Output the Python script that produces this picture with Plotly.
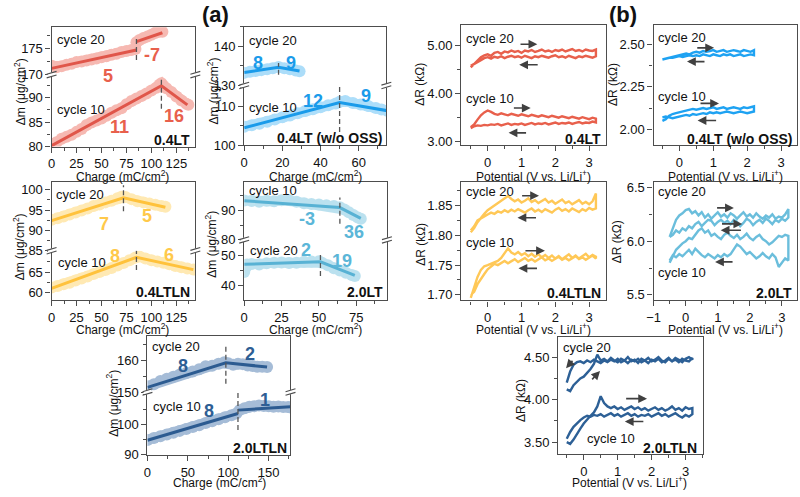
import plotly.graph_objects as go

W, H = 800, 497
FONT = "Liberation Sans, Arial, Helvetica, sans-serif"
FRAME = "#4d4d4d"
ARROW = "#404040"
TICKFONT = dict(family=FONT, size=13, color="#111")

# ===================== (a) EQCM data =====================
# 0.4LT
a1_c10_x = [0, 5, 10, 15, 20, 25, 30, 35, 40, 45, 50, 55, 60, 65, 70, 75, 80, 85, 90, 95, 100, 105, 108, 110, 112, 115, 120, 125, 130, 135, 137]
a1_c10_y = [80.5, 80.9, 81.6, 82.0, 82.4, 83.0, 83.6, 84.4, 84.9, 85.3, 85.7, 86.3, 86.9, 87.4, 87.8, 88.6, 89.3, 89.8, 90.3, 90.8, 91.4, 92.0, 92.6, 92.9, 92.4, 91.9, 91.1, 90.2, 89.4, 88.7, 88.5]
a1_c10_fit = [([0, 110, 136], [80.2, 92.4, 88.5])]
a1_c10_dash = (110, 87.7, 93.7)
a1_c20_x = [0, 5, 10, 15, 20, 25, 30, 35, 40, 45, 50, 55, 60, 65, 70, 75, 80, 84, 85, 88, 92, 96, 100, 104, 108, 111]
a1_c20_y = [171.7, 171.4, 171.6, 171.9, 172.1, 172.4, 172.5, 172.7, 172.9, 173.1, 173.3, 173.5, 173.8, 174.0, 174.3, 174.5, 174.7, 174.9, 176.2, 176.6, 177.0, 177.3, 177.6, 178.0, 178.3, 178.2]
a1_c20_fit = [([0, 85], [171.2, 174.7]), ([85, 111], [176.3, 178.0])]
a1_c20_dash = (85, 172.8, 176.9)

# 0.4LT (w/o OSS)
a2_c10_x = [0, 4, 8, 12, 16, 20, 24, 28, 32, 36, 40, 44, 48, 50, 53, 57, 61, 65, 69, 72, 75]
a2_c10_y = [104.8, 105.2, 105.6, 106.1, 106.7, 107.3, 107.7, 108.3, 108.9, 109.4, 109.9, 110.4, 110.9, 111.3, 111.5, 111.0, 110.6, 110.2, 109.7, 109.3, 109.0]
a2_c10_fit = [([0, 50, 75], [104.5, 111.1, 109.0])]
a2_c10_dash = (50, 103.4, 115.6)
a2_c20_x = [0, 3, 6, 9, 12, 15, 18, 21, 24, 27, 29]
a2_c20_y = [133.2, 133.5, 133.7, 133.9, 134.1, 134.4, 134.7, 134.4, 134.1, 133.8, 133.6]
a2_c20_fit = [([0, 18, 29], [133.3, 134.6, 133.7])]
a2_c20_dash = (18, 132.75, 135.7)

# 0.4LTLN
a3_c20_x = [0, 6, 12, 18, 24, 30, 36, 42, 48, 54, 60, 66, 70, 74, 80, 86, 92, 98, 104, 110, 114]
a3_c20_y = [92.6, 93.0, 93.4, 93.9, 94.4, 94.9, 95.4, 96.0, 96.4, 96.9, 97.3, 97.9, 98.3, 98.2, 97.7, 97.2, 96.9, 96.6, 96.3, 96.0, 95.8]
a3_c20_fit = [([0, 72, 114], [92.4, 98.0, 95.7])]
a3_c20_dash = (72, 94.7, 101.1)
a3_c10_x = [0, 6, 12, 18, 24, 30, 36, 42, 48, 54, 60, 66, 72, 78, 84, 88, 94, 100, 106, 112, 118, 124, 130, 136, 142]
a3_c10_y = [61.2, 61.6, 62.0, 62.4, 62.9, 63.4, 63.9, 64.5, 65.0, 65.5, 66.0, 66.6, 67.2, 67.9, 68.6, 68.8, 68.3, 67.9, 67.6, 67.3, 66.9, 66.5, 66.2, 65.9, 65.6]
a3_c10_fit = [([0, 85, 142], [61.0, 68.6, 65.6])]
a3_c10_dash = (85, 65.5, 70.3)

# 2.0LT
a4_c10_x = [0, 5, 10, 15, 20, 25, 30, 35, 40, 45, 50, 55, 60, 64, 67, 70, 73, 76, 78]
a4_c10_y = [93.4, 93.2, 93.0, 93.3, 93.1, 93.5, 93.6, 93.0, 92.5, 92.2, 92.0, 91.8, 91.5, 91.1, 90.3, 89.4, 88.5, 87.6, 87.2]
a4_c10_fit = [([0, 64, 78], [93.3, 91.0, 87.3])]
a4_c10_dash = (64, 85.5, 94.4)
a4_c20_x = [0, 1, 2, 5, 10, 15, 20, 25, 30, 35, 40, 45, 50, 52, 56, 60, 64, 68, 72, 74]
a4_c20_y = [44.5, 46.0, 47.0, 47.2, 47.0, 47.4, 47.6, 47.7, 47.5, 47.6, 47.9, 48.0, 48.1, 47.6, 46.8, 45.8, 45.0, 44.3, 43.5, 43.2]
a4_c20_fit = [([0, 51, 74], [47.1, 47.9, 43.4])]
a4_c20_dash = (51, 43.2, 50.3)

# 2.0LTLN
a5_c20_x = [0, 8, 16, 24, 32, 40, 48, 56, 64, 72, 80, 88, 95, 100, 106, 112, 118, 124, 130, 136, 142, 148]
a5_c20_y = [151.8, 152.5, 153.5, 154.2, 154.8, 155.5, 156.0, 156.5, 157.2, 158.1, 158.3, 158.9, 159.4, 159.1, 158.6, 158.9, 158.8, 158.4, 158.2, 158.0, 158.0, 157.9]
a5_c20_fit = [([0, 97, 148], [151.5, 159.2, 157.9])]
a5_c20_dash = (97, 152.6, 164.4)
a5_c10_x = [0, 8, 16, 24, 32, 40, 48, 56, 64, 72, 80, 88, 96, 104, 110, 114, 120, 126, 132, 138, 144, 150, 156, 162, 168, 174, 177]
a5_c10_y = [95.0, 95.6, 96.2, 96.8, 97.4, 98.0, 98.6, 99.3, 99.9, 100.6, 101.2, 101.9, 102.5, 103.2, 103.8, 104.9, 105.5, 106.0, 106.2, 106.4, 106.3, 106.2, 106.0, 106.1, 105.9, 105.9, 105.8]
a5_c10_fit = [([0, 112], [94.9, 103.8]), ([112, 177], [104.9, 106.0])]
a5_c10_dash = (112, 98.3, 110.9)

# ===================== (b) resistance data =====================
POT = [-0.5, -0.4, -0.3, -0.2, -0.1, 0.0, 0.1, 0.2, 0.3, 0.4, 0.5, 0.6, 0.7, 0.8, 0.9, 1.0, 1.1, 1.2, 1.3, 1.4,
       1.5, 1.6, 1.7, 1.8, 1.9, 2.0, 2.1, 2.2, 2.3, 2.4, 2.5, 2.6, 2.7, 2.8, 2.9, 3.0, 3.1, 3.2]
POT_SHORT = [-0.5, -0.4, -0.3, -0.2, -0.1, 0.0, 0.1, 0.2, 0.3, 0.4, 0.5, 0.6, 0.7, 0.8, 0.9, 1.0, 1.1, 1.2, 1.3, 1.4,
             1.5, 1.6, 1.7, 1.8, 1.9, 2.0, 2.1, 2.2]

# forward sweeps and reverse sweeps (both listed in increasing potential order)
b1_c20_fwd = [4.55, 4.62, 4.70, 4.76, 4.80, 4.82, 4.79, 4.85, 4.87, 4.83, 4.88, 4.86, 4.90, 4.87, 4.89, 4.85, 4.90, 4.88, 4.91, 4.87,
              4.89, 4.92, 4.88, 4.90, 4.87, 4.91, 4.89, 4.92, 4.88, 4.90, 4.93, 4.89, 4.91, 4.88, 4.92, 4.90, 4.89, 4.92]
b1_c20_rev = [4.58, 4.62, 4.66, 4.70, 4.74, 4.76, 4.73, 4.77, 4.75, 4.78, 4.74, 4.77, 4.79, 4.76, 4.78, 4.75, 4.79, 4.77, 4.74, 4.78,
              4.76, 4.79, 4.77, 4.75, 4.78, 4.80, 4.76, 4.78, 4.75, 4.79, 4.77, 4.74, 4.78, 4.76, 4.79, 4.77, 4.75, 4.78]
b1_c10_fwd = [3.30, 3.36, 3.46, 3.55, 3.61, 3.65, 3.62, 3.58, 3.56, 3.59, 3.57, 3.55, 3.58, 3.56, 3.54, 3.57, 3.55, 3.53, 3.56, 3.54,
              3.52, 3.55, 3.53, 3.51, 3.54, 3.52, 3.50, 3.53, 3.51, 3.49, 3.52, 3.50, 3.48, 3.51, 3.49, 3.47, 3.50, 3.48]
b1_c10_rev = [3.28, 3.32, 3.34, 3.33, 3.35, 3.34, 3.36, 3.35, 3.37, 3.34, 3.36, 3.38, 3.35, 3.37, 3.36, 3.38, 3.35, 3.37, 3.39, 3.36,
              3.38, 3.37, 3.39, 3.36, 3.38, 3.40, 3.37, 3.39, 3.38, 3.40, 3.37, 3.39, 3.41, 3.38, 3.40, 3.39, 3.42, 3.40]

b2_c20_fwd = [2.41, 2.415, 2.42, 2.425, 2.43, 2.435, 2.44, 2.445, 2.44, 2.45, 2.455, 2.45, 2.46, 2.455, 2.46, 2.465, 2.455, 2.46, 2.465, 2.455,
              2.46, 2.465, 2.46, 2.455, 2.465, 2.46, 2.455, 2.465]
b2_c20_rev = [2.41, 2.415, 2.42, 2.42, 2.425, 2.43, 2.425, 2.43, 2.435, 2.43, 2.435, 2.43, 2.44, 2.435, 2.43, 2.44, 2.435, 2.43, 2.44, 2.435,
              2.44, 2.43, 2.435, 2.44, 2.43, 2.435, 2.44, 2.435]
b2_c10_fwd = [2.05, 2.06, 2.08, 2.09, 2.095, 2.10, 2.105, 2.11, 2.115, 2.12, 2.115, 2.12, 2.125, 2.12, 2.125, 2.13, 2.12, 2.125, 2.13, 2.12,
              2.125, 2.13, 2.125, 2.12, 2.13, 2.125, 2.13, 2.135]
b2_c10_rev = [2.07, 2.075, 2.07, 2.065, 2.07, 2.075, 2.08, 2.085, 2.08, 2.09, 2.085, 2.09, 2.095, 2.09, 2.10, 2.095, 2.10, 2.095, 2.10, 2.105,
              2.10, 2.095, 2.10, 2.105, 2.10, 2.095, 2.10, 2.105]

b3_c20_fwd = [1.805, 1.812, 1.822, 1.830, 1.836, 1.842, 1.846, 1.850, 1.854, 1.858, 1.862, 1.866, 1.861, 1.857, 1.860, 1.855, 1.858, 1.862, 1.856, 1.859,
              1.854, 1.857, 1.861, 1.855, 1.858, 1.853, 1.857, 1.860, 1.854, 1.857, 1.852, 1.856, 1.859, 1.853, 1.856, 1.852, 1.857, 1.870]
b3_c20_rev = [1.808, 1.815, 1.825, 1.828, 1.832, 1.835, 1.838, 1.836, 1.840, 1.838, 1.842, 1.839, 1.843, 1.840, 1.844, 1.841, 1.838, 1.842, 1.845, 1.840,
              1.843, 1.839, 1.844, 1.841, 1.838, 1.843, 1.846, 1.841, 1.844, 1.840, 1.845, 1.842, 1.839, 1.844, 1.841, 1.846, 1.843, 1.845]
b3_c10_fwd = [1.695, 1.712, 1.730, 1.742, 1.748, 1.750, 1.752, 1.755, 1.757, 1.762, 1.770, 1.778, 1.771, 1.768, 1.772, 1.767, 1.770, 1.765, 1.769, 1.764,
              1.768, 1.763, 1.767, 1.762, 1.766, 1.761, 1.765, 1.760, 1.764, 1.768, 1.762, 1.766, 1.761, 1.765, 1.769, 1.763, 1.767, 1.764]
b3_c10_rev = [1.700, 1.705, 1.718, 1.726, 1.735, 1.743, 1.748, 1.752, 1.750, 1.754, 1.757, 1.753, 1.756, 1.760, 1.755, 1.758, 1.762, 1.757, 1.760, 1.756,
              1.759, 1.763, 1.758, 1.761, 1.757, 1.760, 1.764, 1.759, 1.762, 1.758, 1.761, 1.765, 1.760, 1.763, 1.759, 1.762, 1.766, 1.761]

b4_c20_fwd = [6.04, 6.12, 6.20, 6.24, 6.26, 6.29, 6.30, 6.26, 6.28, 6.24, 6.27, 6.22, 6.25, 6.21, 6.24, 6.27, 6.23, 6.25, 6.22, 6.26,
              6.24, 6.21, 6.24, 6.27, 6.23, 6.25, 6.22, 6.26, 6.23, 6.21, 6.24, 6.22, 6.25, 6.21, 6.23, 6.22, 6.25, 6.30]
b4_c20_rev = [6.04, 6.06, 6.10, 6.08, 6.12, 6.10, 6.14, 6.12, 6.16, 6.18, 6.14, 6.17, 6.20, 6.19, 6.15, 6.18, 6.20, 6.17, 6.19, 6.16,
              6.20, 6.18, 6.14, 6.17, 6.21, 6.19, 6.15, 6.18, 6.20, 6.17, 6.21, 6.19, 6.16, 6.20, 6.18, 6.21, 6.19, 6.22]
b4_c10_fwd = [5.80, 5.86, 5.92, 5.95, 5.98, 6.00, 6.03, 6.02, 6.06, 6.10, 6.12, 6.08, 6.10, 6.05, 6.07, 6.04, 6.02, 6.06, 6.08, 6.05,
              6.03, 6.06, 6.02, 6.04, 6.07, 6.03, 6.01, 6.04, 6.06, 6.02, 6.00, 5.97, 5.99, 6.02, 6.05, 6.04, 6.06, 6.05]
b4_c10_rev = [5.82, 5.87, 5.85, 5.88, 5.86, 5.89, 5.92, 5.88, 5.93, 5.90, 5.87, 5.85, 5.88, 5.86, 5.84, 5.87, 5.85, 5.88, 5.86, 5.88,
              5.92, 5.97, 5.95, 5.92, 5.88, 5.90, 5.87, 5.84, 5.86, 5.89, 5.86, 5.84, 5.88, 5.85, 5.76, 5.80, 5.84, 5.82]

b5_c20_fwd = [4.12, 4.10, 4.17, 4.21, 4.25, 4.27, 4.31, 4.36, 4.42, 4.53, 4.46, 4.48, 4.45, 4.49, 4.46, 4.44, 4.48, 4.46, 4.50, 4.45,
              4.47, 4.43, 4.48, 4.46, 4.49, 4.45, 4.47, 4.50, 4.46, 4.44, 4.48, 4.45, 4.49, 4.47, 4.44, 4.48, 4.50, 4.47]
b5_c20_rev = [4.20, 4.33, 4.41, 4.44, 4.45, 4.43, 4.46, 4.44, 4.47, 4.45, 4.43, 4.46, 4.44, 4.47, 4.45, 4.48, 4.44, 4.46, 4.43, 4.47,
              4.45, 4.48, 4.44, 4.46, 4.43, 4.47, 4.45, 4.48, 4.44, 4.46, 4.49, 4.45, 4.47, 4.44, 4.48, 4.46, 4.45, 4.49]
b5_c10_fwd = [3.50, 3.48, 3.53, 3.60, 3.66, 3.72, 3.77, 3.81, 3.85, 3.92, 4.04, 3.96, 3.92, 3.90, 3.92, 3.89, 3.91, 3.88, 3.90, 3.92,
              3.89, 3.91, 3.88, 3.90, 3.87, 3.89, 3.91, 3.88, 3.90, 3.87, 3.89, 3.92, 3.88, 3.90, 3.87, 3.91, 3.89, 3.90]
b5_c10_rev = [3.54, 3.62, 3.68, 3.72, 3.76, 3.79, 3.81, 3.80, 3.82, 3.81, 3.83, 3.80, 3.82, 3.84, 3.81, 3.83, 3.80, 3.82, 3.84, 3.81,
              3.83, 3.80, 3.82, 3.81, 3.83, 3.80, 3.82, 3.84, 3.81, 3.83, 3.80, 3.82, 3.84, 3.81, 3.79, 3.82, 3.80, 3.83]

# ===================== helpers =====================
def fx(p):
    return p / W


def fy(p):
    return 1 - p / H


layout = {}
traces = []
shapes = []
annos = []


def xax(dom, anchor, rng, dtick, minor, tick0=0, top=False):
    d = dict(domain=dom, anchor=anchor, range=rng, showline=True, linecolor=FRAME, linewidth=1.3,
             showgrid=False, zeroline=False, tickfont=TICKFONT, fixedrange=True)
    if top:
        d.update(side="top", ticks="", showticklabels=False)
    else:
        d.update(tickmode="linear", tick0=tick0, dtick=dtick, ticks="outside", ticklen=5, tickwidth=1.2,
                 tickcolor=FRAME,
                 minor=dict(dtick=minor, tick0=tick0, ticks="outside", ticklen=3, tickwidth=1, tickcolor=FRAME))
    return d


def yax(dom, anchor, rng, tickvals, minor, fmt=None):
    d = dict(domain=dom, anchor=anchor, range=rng, tickmode="array", tickvals=tickvals,
             showline=True, mirror=True, linecolor=FRAME, linewidth=1.3,
             ticks="outside", ticklen=5, tickwidth=1.2, tickcolor=FRAME,
             minor=dict(dtick=minor, tick0=0, ticks="outside", ticklen=3, tickwidth=1, tickcolor=FRAME),
             showgrid=False, zeroline=False, tickfont=TICKFONT, fixedrange=True)
    if fmt:
        d["tickformat"] = fmt
    return d


def sfx(i):
    return "" if i == 1 else str(i)


def text(x, y, s, size=13, bold=False, color="#111", xanchor="center", angle=0, yanchor="middle"):
    if bold:
        s = "<b>" + s + "</b>"
    annos.append(dict(x=fx(x), y=fy(y), xref="paper", yref="paper", text=s, showarrow=False,
                      xanchor=xanchor, yanchor=yanchor, textangle=angle,
                      font=dict(family=FONT, size=size, color=color)))


def arrow(tx, ty, hx, hy):
    annos.append(dict(x=fx(hx), y=fy(hy), xref="paper", yref="paper", ax=tx - hx, ay=ty - hy,
                      axref="pixel", ayref="pixel", showarrow=True, arrowhead=2, arrowsize=1.1,
                      arrowwidth=1.6, arrowcolor=ARROW, text=""))


def break_mark(x, y):
    shapes.append(dict(type="rect", xref="paper", yref="paper", x0=fx(x - 4), x1=fx(x + 4),
                       y0=fy(y + 2.2), y1=fy(y - 2.2), fillcolor="white", line=dict(width=0), layer="above"))
    for off in (-1.8, 1.8):
        shapes.append(dict(type="line", xref="paper", yref="paper", x0=fx(x - 5), y0=fy(y + off + 1.5),
                           x1=fx(x + 5), y1=fy(y + off - 1.5), line=dict(color=FRAME, width=1.1), layer="above"))


def add_series(xa, ya, bx, by, fits, dash, band, line):
    traces.append(go.Scatter(x=bx, y=by, xaxis=xa, yaxis=ya, mode="lines+markers", opacity=0.5,
                             line=dict(color=band, width=10), marker=dict(color=band, size=12),
                             hoverinfo="skip", showlegend=False))
    for fxs, fys in fits:
        traces.append(go.Scatter(x=fxs, y=fys, xaxis=xa, yaxis=ya, mode="lines",
                                 line=dict(color=line, width=3), hoverinfo="skip", showlegend=False))
    dx, d0, d1 = dash
    traces.append(go.Scatter(x=[dx, dx], y=[d0, d1], xaxis=xa, yaxis=ya, mode="lines",
                             line=dict(color="#555", width=1.3, dash="5px,3px"), hoverinfo="skip",
                             showlegend=False))


# ===================== (a) panels =====================
A = [
    dict(geo=(45, 190, 26.7, 75, 148.3), xr=[0, 144], xd=25, xm=12.5,
         lo=[80, 94.65], lot=[80, 85, 90], lom=2.5, up=[170, 179.05], upt=[170, 175], upm=2.5,
         low=(a1_c10_x, a1_c10_y, a1_c10_fit, a1_c10_dash), upp=(a1_c20_x, a1_c20_y, a1_c20_fit, a1_c20_dash),
         band="#EE7466", line="#E0564A", tc="#E8604C", ytx=13, yty=92, xtx=117, xty=168),
    dict(geo=(239.3, 382.7, 26, 86, 146.7), xr=[0, 74.5], xd=20, xm=10,
         lo=[100, 115.6], lot=[100, 110], lom=5, up=[130, 145], upt=[130, 140], upm=5,
         low=(a2_c10_x, a2_c10_y, a2_c10_fit, a2_c10_dash), upp=(a2_c20_x, a2_c20_y, a2_c20_fit, a2_c20_dash),
         band="#5CBDF5", line="#1A9BEA", tc="#1A9BEA", ytx=208, yty=92, xtx=311, xty=168),
    dict(geo=(45, 190, 184, 254.3, 304.3), xr=[0, 144], xd=25, xm=12.5,
         lo=[58.2, 70.24], lot=[60, 65], lom=2.5, up=[85, 102], upt=[85, 90, 95, 100], upm=2.5,
         low=(a3_c10_x, a3_c10_y, a3_c10_fit, a3_c10_dash), upp=(a3_c20_x, a3_c20_y, a3_c20_fit, a3_c20_dash),
         band="#FFD469", line="#FFC23C", tc="#FFC94A", ytx=13, yty=250, xtx=117, xty=324),
    dict(geo=(239.3, 383.3, 184, 243.3, 304.3), xr=[0, 95.5], xd=25, xm=12.5,
         lo=[35.3, 55.2], lot=[40, 50], lom=5, up=[80, 99.8], upt=[80, 90], upm=5,
         low=(a4_c20_x, a4_c20_y, a4_c20_fit, a4_c20_dash), upp=(a4_c10_x, a4_c10_y, a4_c10_fit, a4_c10_dash),
         band="#7AC5E0", line="#58B2D4", tc="#5BB6D8", ytx=205, yty=248, xtx=311, xty=324),
    dict(geo=(141.7, 286, 340.7, 398.3, 462.3), xr=[0, 177], xd=50, xm=25,
         lo=[90, 110.9], lot=[90, 100], lom=5, up=[150, 167.8], upt=[150, 160], upm=5,
         low=(a5_c10_x, a5_c10_y, a5_c10_fit, a5_c10_dash), upp=(a5_c20_x, a5_c20_y, a5_c20_fit, a5_c20_dash),
         band="#4D7AAF", line="#2C5B91", tc="#2E5E94", ytx=106, yty=410, xtx=214, xty=480),
]

for k, p in enumerate(A):
    il, iu = 2 * k + 1, 2 * k + 2
    L, R, T, B_, Bt = p["geo"]
    layout["xaxis" + sfx(il)] = xax([fx(L), fx(R)], "y" + sfx(il), p["xr"], p["xd"], p["xm"])
    layout["xaxis" + sfx(iu)] = xax([fx(L), fx(R)], "y" + sfx(iu), p["xr"], p["xd"], p["xm"], top=True)
    layout["yaxis" + sfx(il)] = yax([fy(Bt), fy(B_)], "x" + sfx(il), p["lo"], p["lot"], p["lom"])
    layout["yaxis" + sfx(iu)] = yax([fy(B_), fy(T)], "x" + sfx(iu), p["up"], p["upt"], p["upm"])
    bx, by, fits, dash = p["low"]
    add_series("x" + sfx(il), "y" + sfx(il), bx, by, fits, dash, p["band"], p["line"])
    bx, by, fits, dash = p["upp"]
    add_series("x" + sfx(iu), "y" + sfx(iu), bx, by, fits, dash, p["band"], p["line"])
    break_mark(L, B_)
    break_mark(R, B_)
    text(p["ytx"], p["yty"], "\u0394m (\u03bcg/cm<sup>2</sup>)", size=12, angle=-90)
    text(p["xtx"], p["xty"], "Charge (mC/cm<sup>2</sup>)", size=12, yanchor="top")

# panel annotations (a)
NUM = 18
text(48, 39, "cycle 20", xanchor="left"); text(101.7, 76, "5", NUM, True, A[0]["tc"])
text(146.7, 55, "-7", NUM, True, A[0]["tc"]); text(48, 110, "cycle 10", xanchor="left")
text(113, 128, "11", NUM, True, A[0]["tc"]); text(168, 117, "16", NUM, True, A[0]["tc"])
text(187, 141.5, "0.4LT", 14, True, xanchor="right")

text(241.7, 40.7, "cycle 20", xanchor="left"); text(253.3, 62.7, "8", NUM, True, A[1]["tc"])
text(286.7, 62.7, "9", NUM, True, A[1]["tc"]); text(241.7, 108.3, "cycle 10", xanchor="left")
text(308.3, 101.7, "12", NUM, True, A[1]["tc"]); text(361.7, 96.7, "9", NUM, True, A[1]["tc"])
text(381, 140, "0.4LT (w/o OSS)", 14, True, xanchor="right")

text(47.7, 196.7, "cycle 20", xanchor="left"); text(98.3, 226.7, "7", NUM, True, A[2]["tc"])
text(141.7, 219, "5", NUM, True, A[2]["tc"]); text(49.3, 266, "cycle 10", xanchor="left")
text(109.3, 259.3, "8", NUM, True, A[2]["tc"]); text(163.3, 258.3, "6", NUM, True, A[2]["tc"])
text(187, 296.7, "0.4LTLN", 14, True, xanchor="right")

text(242.3, 193.3, "cycle 10", xanchor="left"); text(302.7, 221.7, "-3", NUM, True, A[3]["tc"])
text(350, 235, "36", NUM, True, A[3]["tc"]); text(243.3, 254, "cycle 20", xanchor="left")
text(301.7, 254, "2", NUM, True, A[3]["tc"]); text(338.3, 264.3, "19", NUM, True, A[3]["tc"])
text(381, 296.7, "2.0LT", 14, True, xanchor="right")

text(144.3, 352.3, "cycle 20", xanchor="left"); text(177.3, 371.7, "8", NUM, True, A[4]["tc"])
text(245, 360, "2", NUM, True, A[4]["tc"]); text(145, 413.3, "cycle 10", xanchor="left")
text(204, 417.3, "8", NUM, True, A[4]["tc"]); text(260.7, 406, "1", NUM, True, A[4]["tc"])
text(284, 455, "2.0LTLN", 14, True, xanchor="right")

# ===================== (b) panels =====================
B = [
    dict(geo=(458.3, 604, 24, 146.7), xr=[-0.78, 3.49], yr=[2.93, 5.44], yt=[3, 4, 5], ym=0.5, fmt=".2f",
         pot=POT, c20=(b1_c20_fwd, b1_c20_rev), c10=(b1_c10_fwd, b1_c10_rev), color="#E8604C",
         ytx=417, yty=85, xtx=531, xty=168),
    dict(geo=(652.3, 797, 24, 146.7), xr=[-0.76, 3.47], yr=[1.908, 2.615], yt=[2.0, 2.25, 2.5], ym=0.125, fmt=".2f",
         pot=POT_SHORT, c20=(b2_c20_fwd, b2_c20_rev), c10=(b2_c10_fwd, b2_c10_rev), color="#1EA2F2",
         ytx=612, yty=85, xtx=725, xty=168),
    dict(geo=(458.3, 604, 184, 305), xr=[-0.78, 3.49], yr=[1.6906, 1.89], yt=[1.70, 1.75, 1.80, 1.85], ym=0.025,
         fmt=".2f", pot=POT, c20=(b3_c20_fwd, b3_c20_rev), c10=(b3_c10_fwd, b3_c10_rev), color="#FFC857",
         ytx=417, yty=248, xtx=531, xty=324),
    dict(geo=(652.3, 797, 184, 304.3), xr=[-1, 3.47], yr=[5.454, 6.555], yt=[5.5, 6.0, 6.5], ym=0.25, fmt=".1f",
         pot=POT, c20=(b4_c20_fwd, b4_c20_rev), c10=(b4_c10_fwd, b4_c10_rev), color="#6BBEDC",
         ytx=615, yty=245, xtx=725, xty=324),
    dict(geo=(556, 701.7, 341.7, 461.7), xr=[-0.754, 3.5], yr=[3.357, 4.742], yt=[3.5, 4.0, 4.5], ym=0.25, fmt=".2f",
         pot=POT, c20=(b5_c20_fwd, b5_c20_rev), c10=(b5_c10_fwd, b5_c10_rev), color="#2D6096",
         ytx=518, yty=407, xtx=628, xty=480),
]

for k, p in enumerate(B):
    i = 11 + k
    L, R, T, Bt = p["geo"]
    xa = xax([fx(L), fx(R)], "y" + sfx(i), p["xr"], 1, 0.5)
    xa["mirror"] = True
    layout["xaxis" + sfx(i)] = xa
    layout["yaxis" + sfx(i)] = yax([fy(Bt), fy(T)], "x" + sfx(i), p["yr"], p["yt"], p["ym"], p["fmt"])
    for fwd, rev in (p["c20"], p["c10"]):
        traces.append(go.Scatter(x=list(p["pot"]) + list(p["pot"])[::-1], y=list(fwd) + list(rev)[::-1],
                                 xaxis="x" + sfx(i), yaxis="y" + sfx(i), mode="lines",
                                 line=dict(color=p["color"], width=2.4), hoverinfo="skip", showlegend=False))
    text(p["ytx"], p["yty"], "\u0394R (k\u03a9)", size=12, angle=-90)
    text(p["xtx"], p["xty"], "Potential (V vs. Li/Li<sup>+</sup>)", size=12, yanchor="top")

# panel annotations (b)
text(461, 37.7, "cycle 20", xanchor="left"); text(461, 99.3, "cycle 10", xanchor="left")
text(601.5, 140.7, "0.4LT", 14, True, xanchor="right")
arrow(516.7, 44, 535, 44); arrow(536.7, 65, 516.7, 65); arrow(510, 109, 528.3, 109); arrow(525, 134.3, 506, 134.3)

text(655, 37.3, "cycle 20", xanchor="left"); text(655, 97.3, "cycle 10", xanchor="left")
text(795, 140.7, "0.4LT (w/o OSS)", 14, True, xanchor="right")
arrow(695, 47.7, 713.3, 47.7); arrow(705, 61.7, 686, 61.7); arrow(698.3, 104.3, 718.3, 104.3); arrow(716.7, 121.7, 696.7, 121.7)

text(461, 194.3, "cycle 20", xanchor="left"); text(461, 246, "cycle 10", xanchor="left")
text(601, 297.3, "0.4LTLN", 14, True, xanchor="right")
arrow(518.3, 198.3, 536.7, 198.3); arrow(535, 220.7, 515, 220.7); arrow(521.7, 254.3, 542.7, 254.3); arrow(536, 272.3, 516, 272.3)

text(655, 194.3, "cycle 20", xanchor="left"); text(655, 276.7, "cycle 10", xanchor="left")
text(794, 297.3, "2.0LT", 14, True, xanchor="right")
arrow(715, 210.7, 733.3, 210.7); arrow(720, 227, 741.7, 227); arrow(741.7, 233.5, 720, 233.5); arrow(733.3, 265.7, 714.3, 265.7)

text(559, 352.7, "cycle 20", xanchor="left"); text(583.3, 446, "cycle 10", xanchor="left")
text(698.5, 455, "2.0LTLN", 14, True, xanchor="right")
arrow(571.7, 365, 564, 374); arrow(589, 386.7, 598.3, 376.7); arrow(623.3, 405, 645.7, 405); arrow(643.3, 428.3, 623.3, 428.3)

# panel letters
text(210, 14, "(a)", 22, True)
text(621, 14, "(b)", 22, True)

layout.update(width=W, height=H, margin=dict(l=0, r=0, t=0, b=0), paper_bgcolor="white", plot_bgcolor="white",
              showlegend=False, shapes=shapes, annotations=annos, font=dict(family=FONT, size=12, color="#111"))

fig = go.Figure(data=traces, layout=layout)
fig.write_html("out.html", config={"displayModeBar": False},
               post_script="document.body.style.margin='0';document.body.style.overflow='hidden';")
